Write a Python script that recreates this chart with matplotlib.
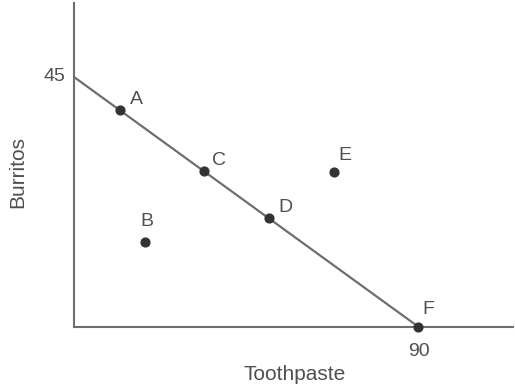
import matplotlib
matplotlib.use("Agg")
import matplotlib.pyplot as plt

# Budget line: 45 burritos or 90 toothpaste
budget_x = [0, 90]
budget_y = [45, 0]

# Labelled bundles
point_names = ["A", "B", "C", "D", "E", "F"]
toothpaste = [12, 18.5, 34, 51, 68, 90]
burritos = [39, 15.2, 28, 19.5, 27.8, 0]
# label offsets in pixels
label_dx = [17, 2, 15, 17, 11, 10]
label_dy = [11, 21, 11, 11, 17, 17]

tick_x_val = 90
tick_y_val = 45

W, H = 515, 387
fig = plt.figure(figsize=(W / 100, H / 100), dpi=100)
left, right, bottom, top = 74, 513, 326.5, 3
ax = fig.add_axes([left / W, (H - bottom) / H, (right - left) / W, (bottom - top) / H])

xmax = 90 * (right - left) / (418 - left)
ymax = 45 * (bottom - top) / (bottom - 77)
ax.set_xlim(0, xmax)
ax.set_ylim(0, ymax)

axis_col = "#6e6e6e"
text_col = "#505050"
for s in ["top", "right"]:
    ax.spines[s].set_visible(False)
for s in ["left", "bottom"]:
    ax.spines[s].set_color(axis_col)
    ax.spines[s].set_linewidth(1.5)
ax.set_xticks([])
ax.set_yticks([])

ax.plot(budget_x, budget_y, color=axis_col, lw=1.6, solid_capstyle="butt", clip_on=False)
ax.scatter(toothpaste, burritos, s=40, color="#333333", zorder=3, clip_on=False)

font = dict(family=["Liberation Sans", "DejaVu Sans"], color=text_col, fontsize=14)
for n, x, y, dx, dy in zip(point_names, toothpaste, burritos, label_dx, label_dy):
    ax.annotate(n, (x, y), xytext=(dx, dy), textcoords="offset pixels",
                ha="center", va="center", **font)

ax.annotate(str(tick_y_val), (0, tick_y_val), xytext=(-20, 0), textcoords="offset pixels",
            ha="center", va="center", annotation_clip=False, **font)
ax.annotate(str(tick_x_val), (tick_x_val, 0), xytext=(1, -25), textcoords="offset pixels",
            ha="center", va="center", annotation_clip=False, **font)

label_font = dict(font, fontsize=15)
fig.text(295 / W, 1 - 375 / H, "Toothpaste", ha="center", va="center", **label_font)
fig.text(18 / W, 1 - 172 / H, "Burritos", ha="center", va="center", rotation=90, **label_font)

fig.savefig("out.png", dpi=100, facecolor="white")
